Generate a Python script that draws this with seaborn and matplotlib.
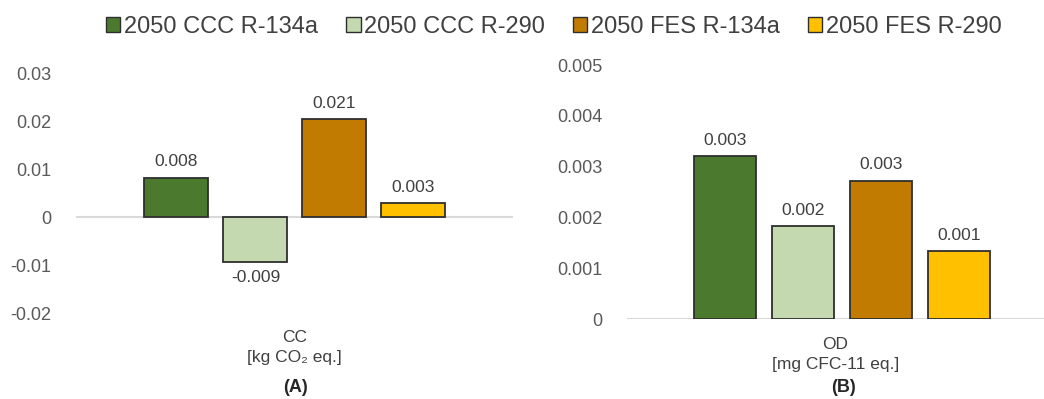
import pandas as pd
import matplotlib
matplotlib.use('Agg')
from matplotlib import pyplot as plt
import seaborn as sns

# scenarios and colours (legend order)
scenarios = ['2050 CCC R-134a', '2050 CCC R-290', '2050 FES R-134a', '2050 FES R-290']
colors = ['#4b7a2e', '#c4d9b0', '#c07b00', '#ffc000']

# panel A: climate change
cc_values = [0.0083, -0.0093, 0.0206, 0.0030]
cc_ticks = [-0.02, -0.01, 0, 0.01, 0.02, 0.03]
cc_ticklabels = ['-0.02', '-0.01', '0', '0.01', '0.02', '0.03']

# panel B: ozone depletion
od_values = [0.00320, 0.00183, 0.00272, 0.00134]
od_ticks = [0, 0.001, 0.002, 0.003, 0.004, 0.005]
od_ticklabels = ['0', '0.001', '0.002', '0.003', '0.004', '0.005']

sns.set_style('white')
plt.rcParams['font.family'] = ['Liberation Sans', 'DejaVu Sans']

text_col = '#404040'
tick_col = '#595959'

W, H = 1044, 399
fig = plt.figure(figsize=(W / 100, H / 100), dpi=100)


def px_axes(x0, x1, ytop, ybot):
    return fig.add_axes([x0 / W, 1 - ybot / H, (x1 - x0) / W, (ybot - ytop) / H])


ax_a = px_axes(76, 513, 74, 313)
ax_b = px_axes(627, 1044, 65, 319)

panels = [
    (ax_a, 'CC', cc_values, cc_ticks, cc_ticklabels, 'CC\n[kg CO\u2082 eq.]', (-0.554, 0.552), 0.19),
    (ax_b, 'OD', od_values, od_ticks, od_ticklabels, 'OD\n[mg CFC-11 eq.]', (-0.551, 0.518), 0.2),
]

for ax, cat, vals, ticks, ticklabels, xlab, xlim, gap in panels:
    df = pd.DataFrame({'category': [cat] * len(scenarios),
                       'scenario': scenarios,
                       'value': vals})
    sns.barplot(data=df, x='category', y='value', hue='scenario',
                hue_order=scenarios, palette=colors, saturation=1, gap=gap,
                edgecolor='#2e2e2e', linewidth=1.3, legend=False, ax=ax)
    for cont in ax.containers:
        ax.bar_label(cont, fmt='%.3f', padding=6, fontsize=12.5, color=text_col)

    ax.set_ylim(ticks[0], ticks[-1])
    ax.set_xlim(*xlim)
    ax.set_yticks(ticks)
    ax.set_yticklabels(ticklabels)
    ax.set_xticks([])
    ax.set_xlabel('')
    ax.set_ylabel('')
    ax.tick_params(axis='y', length=0, pad=18, labelsize=13, labelcolor=tick_col)
    sns.despine(ax=ax, left=True, bottom=True)
    ax.axhline(0, color='#d9d9d9', lw=1.5, zorder=0)
    ax.patch.set_alpha(0)

    # category label under the plot area
    ax.text(0.5, -0.07, xlab, transform=ax.transAxes, ha='center', va='top',
            fontsize=12.5, color=text_col, linespacing=1.45)

# panel tags
fig.text(295 / W, 1 - 388 / H, '(A)', ha='center', va='center',
         fontsize=13, fontweight='bold', color='#262626')
fig.text(843 / W, 1 - 387 / H, '(B)', ha='center', va='center',
         fontsize=13, fontweight='bold', color='#262626')

# shared legend on top
handles = [plt.Rectangle((0, 0), 1, 1, facecolor=c, edgecolor='#2e2e2e', lw=1.0)
           for c in colors]
fig.legend(handles, scenarios, loc='center', bbox_to_anchor=(554 / W, 1 - 27 / H),
           ncol=4, frameon=False, fontsize=17, handlelength=0.6,
           handleheight=0.6, handletextpad=0.15, columnspacing=1.2,
           labelcolor=text_col)

plt.savefig('out.png', dpi=100)
